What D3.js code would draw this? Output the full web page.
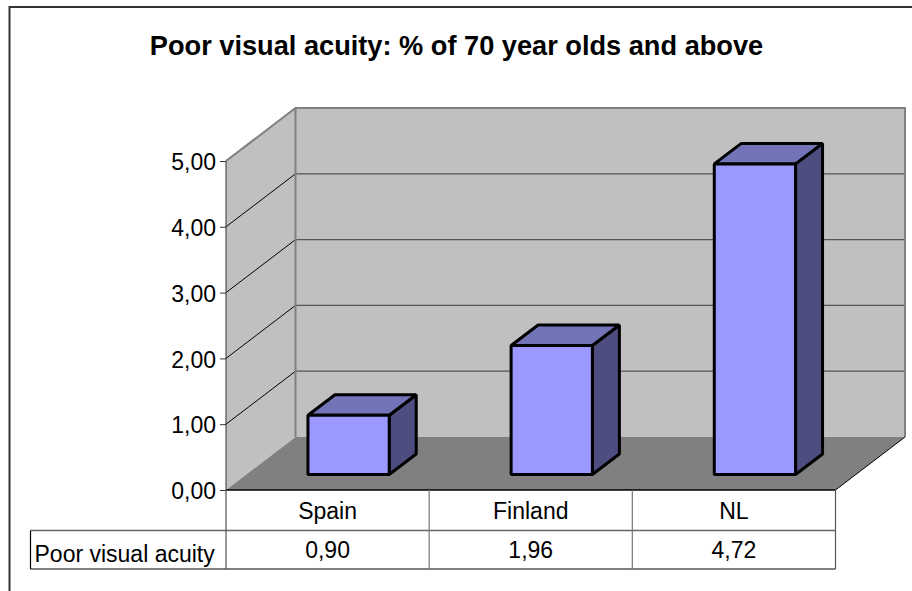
<!DOCTYPE html>
<html><head><meta charset="utf-8">
<script src="https://cdn.jsdelivr.net/npm/d3@7"></script>
<style>html,body{margin:0;padding:0;background:#fff}svg{display:block}text{font-family:"Liberation Sans",Arial,sans-serif;fill:#000}</style>
</head><body><svg id="c" width="912" height="591"></svg>
<script>
const titleText = "Poor visual acuity: % of 70 year olds and above";
const seriesName = "Poor visual acuity";
const categories = ["Spain","Finland","NL"];
const values = [0.90,1.96,4.72];
const ticks = [0,1,2,3,4,5];
const fmt = v => d3.format(".2f")(v).replace(".", ",");

const svg = d3.select("#c");
const L=226, R=835.5, Y0=490, Y5=161, DX=69.5, DY=53;
const x = d3.scaleBand().domain(categories).range([L,R]).paddingInner(0.6).paddingOuter(0.3);
const cell = d3.scaleBand().domain(categories).range([L,R]);
const y = d3.scaleLinear().domain([0,5]).range([Y0,Y5]);
const pts = a => a.map(p=>p.join(",")).join(" ");

// chart frame
svg.append("path").attr("d","M912,7H9.5V591").attr("fill","none").attr("stroke","#333").attr("stroke-width",2);
svg.append("text").attr("x",456.5).attr("y",55).attr("text-anchor","middle").attr("font-weight","bold").attr("font-size",27.2).text(titleText);

// walls and floor
const yb = v => y(v)-DY;
svg.append("polygon").attr("points",pts([[L+DX,yb(0)],[R+DX,yb(0)],[R+DX,yb(5)],[L+DX,yb(5)]])).attr("fill","#c0c0c0");
svg.append("polygon").attr("points",pts([[L,Y0],[L+DX,yb(0)],[L+DX,yb(5)],[L,Y5]])).attr("fill","#c0c0c0");
svg.append("polygon").attr("points",pts([[L,Y0],[R,Y0],[R+DX,yb(0)],[L+DX,yb(0)]])).attr("fill","#808080");

// gridlines
ticks.slice(1,5).forEach(t=>{
  svg.append("line").attr("x1",L).attr("y1",y(t)).attr("x2",L+DX).attr("y2",yb(t)).attr("stroke","#000").attr("stroke-width",1);
  svg.append("line").attr("x1",L+DX).attr("y1",yb(t)).attr("x2",R+DX).attr("y2",yb(t)).attr("stroke","#555").attr("stroke-width",1.2);
});
// wall edges
svg.append("path").attr("d",`M${L},${Y5}L${L+DX},${yb(5)}H${R+DX}V${yb(0)}`).attr("fill","none").attr("stroke","#808080").attr("stroke-width",2);
svg.append("line").attr("x1",L+DX).attr("y1",yb(5)).attr("x2",L+DX).attr("y2",yb(0)).attr("stroke","#808080").attr("stroke-width",2);
svg.append("line").attr("x1",R).attr("y1",Y0).attr("x2",R+DX).attr("y2",yb(0)).attr("stroke","#000").attr("stroke-width",1);
// left axis
svg.append("line").attr("x1",L).attr("y1",Y5).attr("x2",L).attr("y2",Y0).attr("stroke","#333").attr("stroke-width",1);
const yAxis = d3.axisLeft(y).tickValues(ticks).tickFormat(fmt).tickSize(6).tickSizeOuter(0);
const ga = svg.append("g").attr("transform",`translate(${L},0)`).call(yAxis);
ga.select(".domain").remove();
ga.selectAll("line").attr("stroke","#333");
ga.selectAll("text").attr("font-size",23).attr("x",-10).attr("dy","0.38em");

// bars (front plane inset within the depth)
const ox=21, oy=15.5, bx=27, by=20.5, yBase=y(0)-oy;
const bars = svg.append("g").selectAll("g").data(values).join("g");
bars.each(function(v,i){
  const g=d3.select(this), x0=x(categories[i])+ox, x1=x0+x.bandwidth(), t=yBase-(y(0)-y(v));
  g.append("polygon").attr("points",pts([[x1,t],[x1+bx,t-by],[x1+bx,yBase-by],[x1,yBase]])).attr("fill","#4d4d80");
  g.append("polygon").attr("points",pts([[x0,t],[x0+bx,t-by],[x1+bx,t-by],[x1,t]])).attr("fill","#7373b8");
  g.append("rect").attr("x",x0).attr("y",t).attr("width",x.bandwidth()).attr("height",yBase-t).attr("fill","#9999ff");
  g.selectAll("polygon,rect").attr("stroke","#000").attr("stroke-width",3).attr("stroke-linejoin","bevel");
});

// data table
const T0=Y0, T1=530.5, T2=569, TL=30.5;
const line=(a,b,c,d,col,w)=>svg.append("line").attr("x1",a).attr("y1",b).attr("x2",c).attr("y2",d).attr("stroke",col).attr("stroke-width",w);
line(L,T0,R,T0,"#000",1.4);
line(TL,T1,R,T1,"#666",1.4);
line(TL,T2,R,T2,"#000",1.2);
line(TL,T1,TL,T2,"#000",1.2);
line(L,T0,L,T2,"#555",1.2);
categories.forEach((c,i)=>{ line(cell(c)+cell.bandwidth(),T0,cell(c)+cell.bandwidth(),T2,i==2?"#555":"#777",1.2); });
svg.append("g").selectAll("text").data(categories).join("text")
  .attr("x",c=>cell(c)+cell.bandwidth()/2).attr("y",519).attr("text-anchor","middle").attr("font-size",23).text(c=>c);
svg.append("g").selectAll("text").data(values).join("text")
  .attr("x",(v,i)=>cell(categories[i])+cell.bandwidth()/2).attr("y",558).attr("text-anchor","middle").attr("font-size",23).text(fmt);
svg.append("text").attr("x",34.5).attr("y",562).attr("font-size",23).text(seriesName);
</script></body></html>
